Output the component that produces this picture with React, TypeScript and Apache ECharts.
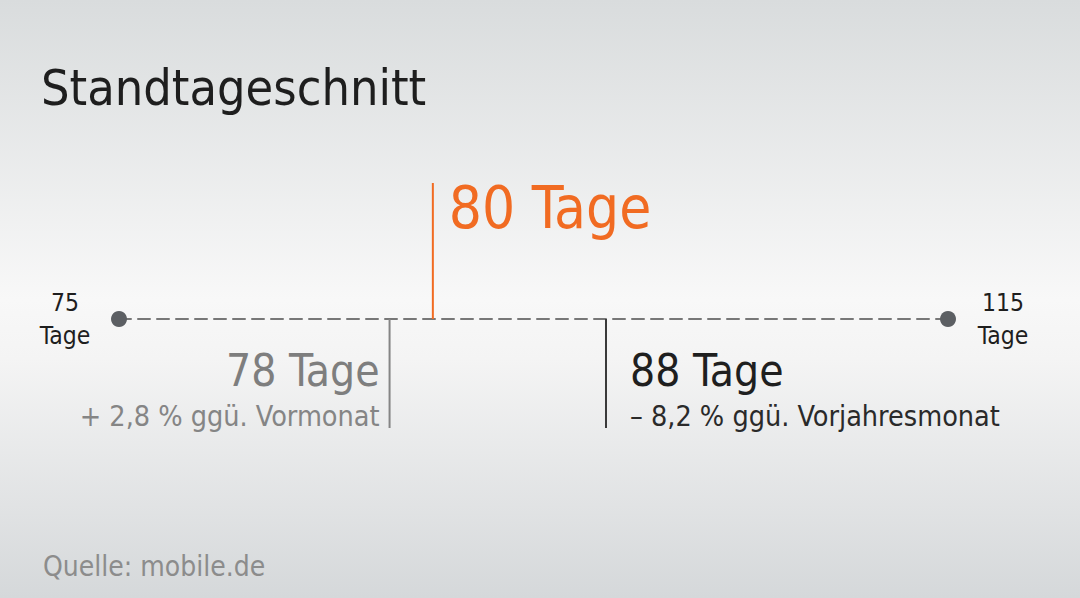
import React, { useEffect, useRef } from 'react';
import * as echarts from 'echarts';

// chart texts
const chartTitle = 'Standtageschnitt';
const sourceNote = 'Quelle: mobile.de';
const unit = 'Tage';

// scale ends (labels) and the marked values
const rangeLabels = ['75', '115'];
const markerValues = [78, 80, 88];
const markerNotes = ['+ 2,8 % ggü. Vormonat', '', '– 8,2 % ggü. Vorjahresmonat'];

// drawn extent of the (not to scale) range line
const scaleMin = 65.5;
const scaleMax = 103.8;

const FONT = "'Liberation Sans Narrow', 'DejaVu Sans Condensed', 'Roboto', sans-serif";
const ORANGE = '#f16b22';

const App: React.FC = () => {
  const chartRef = useRef<HTMLDivElement>(null);

  useEffect(() => {
    if (!chartRef.current) return;
    const chart = echarts.init(chartRef.current, undefined, { renderer: 'svg' });

    const markerStyles = [
      { color: '#858585', text: '#7e7e7e', note: '#858585', up: false, side: 'left' },
      { color: ORANGE, text: ORANGE, note: ORANGE, up: true, side: 'right' },
      { color: '#3a3a3a', text: '#1f1f1f', note: '#2a2a2a', up: false, side: 'right' }
    ];

    const markerData = markerValues.map((v, i) => {
      const s = markerStyles[i];
      const h = s.up ? 136 : 109;
      const note = markerNotes[i];
      const text = note ? `{big|${v} ${unit}}\n{small|${note}}` : `{top|${v} ${unit}}`;
      let label: any;
      if (s.up) {
        label = {
          position: ['100%', 0],
          align: 'left',
          verticalAlign: 'top',
          offset: [15, -4]
        };
      } else if (s.side === 'left') {
        label = {
          position: [0, '100%'],
          align: 'right',
          verticalAlign: 'bottom',
          offset: [-9, 6]
        };
      } else {
        label = {
          position: ['100%', '100%'],
          align: 'left',
          verticalAlign: 'bottom',
          offset: [23, 6]
        };
      }
      return {
        value: [v, 0],
        symbol: 'rect',
        symbolSize: [2, h],
        symbolOffset: [0, s.up ? -h / 2 : h / 2],
        itemStyle: { color: s.color, opacity: 1 },
        label: {
          show: true,
          formatter: text,
          ...label,
          rich: {
            top: { fontFamily: FONT, fontSize: 58, lineHeight: 58, color: s.text },
            big: { fontFamily: FONT, fontSize: 44, lineHeight: 56, color: s.text, align: s.side === 'left' ? 'right' : 'left' },
            small: { fontFamily: FONT, fontSize: 28.5, lineHeight: 36, color: s.note, align: s.side === 'left' ? 'right' : 'left' }
          }
        }
      };
    });

    const endData = [scaleMin, scaleMax].map((v, i) => ({
      value: [v, 0],
      label: {
        show: true,
        formatter: `${rangeLabels[i]}\n${unit}`,
        position: i === 0 ? 'left' : 'right',
        distance: i === 0 ? 46 : 47,
        align: 'center',
        verticalAlign: 'middle',
        fontFamily: FONT,
        fontSize: 24.5,
        lineHeight: 33,
        color: '#1e1e1e'
      }
    }));

    const option: echarts.EChartsOption = {
      animation: false,
      backgroundColor: {
        type: 'linear',
        x: 0, y: 0, x2: 0, y2: 1,
        colorStops: [
          { offset: 0, color: '#d9dcdd' },
          { offset: 0.5, color: '#f8f8f8' },
          { offset: 0.6, color: '#f4f4f4' },
          { offset: 1, color: '#d5d8da' }
        ]
      } as any,
      title: [
        {
          text: chartTitle,
          left: 36,
          top: 58,
          textStyle: { fontFamily: FONT, fontSize: 50, fontWeight: 'normal', color: '#1e1e1e' }
        },
        {
          text: sourceNote,
          left: 38,
          top: 547,
          textStyle: { fontFamily: FONT, fontSize: 28, fontWeight: 'normal', color: '#8c8c8c' }
        }
      ],
      grid: { left: 119, right: 132, top: 219, bottom: 179 },
      xAxis: {
        type: 'value',
        min: scaleMin,
        max: scaleMax,
        axisLine: {
          show: true,
          onZero: true,
          lineStyle: { color: '#777', width: 2, type: [12, 7] }
        },
        axisTick: { show: false },
        axisLabel: { show: false },
        splitLine: { show: false }
      },
      yAxis: {
        type: 'value',
        min: -1,
        max: 1,
        show: false
      },
      series: [
        {
          type: 'scatter',
          name: 'ends',
          symbol: 'circle',
          symbolSize: 16,
          itemStyle: { color: '#5c5f63', opacity: 1 },
          data: endData,
          z: 3
        },
        {
          type: 'scatter',
          name: 'markers',
          data: markerData as any,
          z: 2
        }
      ]
    };

    chart.setOption(option);
    return () => chart.dispose();
  }, []);

  return (
    <div
      ref={chartRef}
      style={{ position: 'fixed', left: 0, top: 0, width: '1080px', height: '598px' }}
    />
  );
};

export default App;
